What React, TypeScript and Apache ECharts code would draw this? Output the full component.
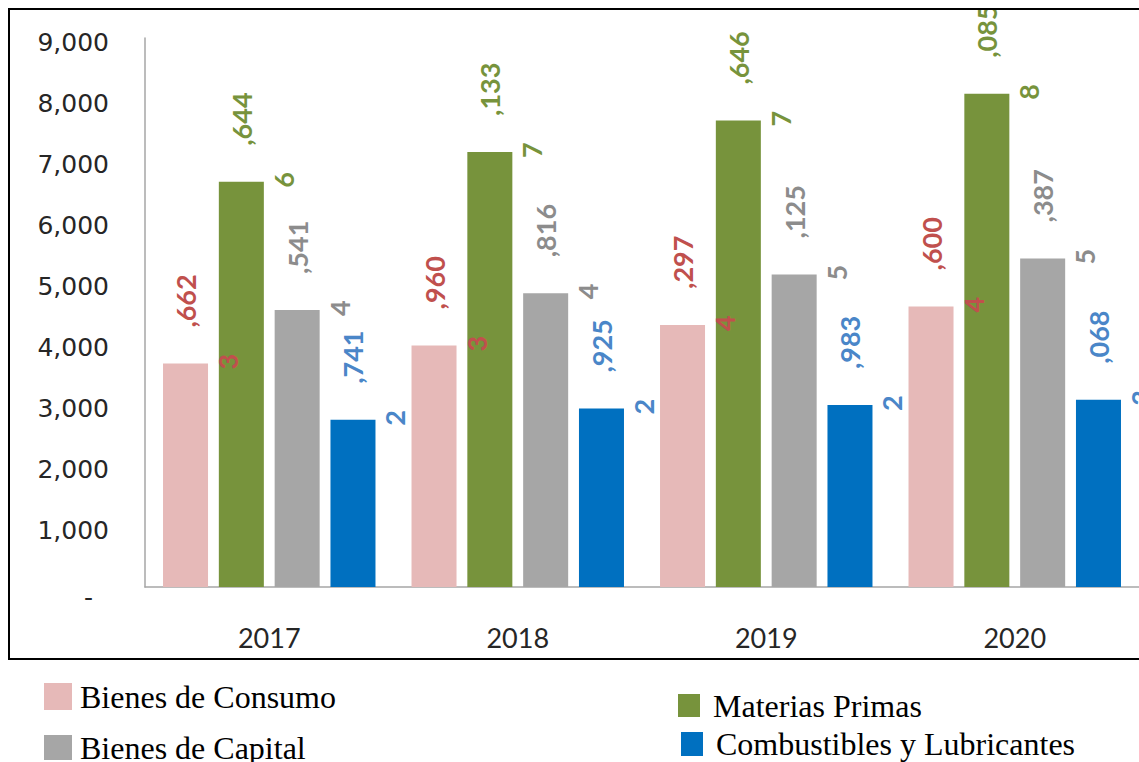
import React, { useEffect, useRef } from "react";
import * as echarts from "echarts";

const categories = ["2017", "2018", "2019", "2020"];
const seriesNames = ["Bienes de Consumo", "Materias Primas", "Bienes de Capital", "Combustibles y Lubricantes"];
const consumo = [3662, 3960, 4297, 4600];
const materias = [6644, 7133, 7646, 8085];
const capital = [4541, 4816, 5125, 5387];
const combustibles = [2741, 2925, 2983, 3068];
const barColors = ["#E6B9B8", "#77933C", "#A6A6A6", "#0070C0"];
const labelColors = ["#C0504D", "#77933C", "#8C8C8C", "#4A86C8"];
const yMin = 0;
const yMax = 9000;
const yStep = 1000;

function splitLabel(v: number) {
  const s = v.toLocaleString("en-US");
  const i = s.indexOf(",");
  return { head: s.slice(0, i), tail: s.slice(i) };
}

export default function App() {
  const ref = useRef<HTMLDivElement>(null);
  useEffect(() => {
    const chart = echarts.init(ref.current!, null, { renderer: "svg" });
    const labelFont = "Lato";
    const mkSeries = (name: string, data: number[], idx: number) => ({
      name,
      type: "bar",
      data,
      z: 10 - idx,
      barGap: "24%",
      barCategoryGap: "14.5%",
      itemStyle: { color: barColors[idx] },
      label: {
        show: true,
        position: "top",
        distance: -6,
        rotate: 90,
        align: "left",
        verticalAlign: "middle",
        formatter: (p: any) => {
          const { head, tail } = splitLabel(p.value);
          return `{s| }\n{m|${tail}}\n{d|${head}}`;
        },
        rich: {
          s: { lineHeight: 42, fontSize: 27 },
          m: {
            lineHeight: 42,
            fontSize: 27,
            fontWeight: "bold",
            fontFamily: labelFont,
            color: labelColors[idx],
            padding: [0, 0, 0, 42],
          },
          d: {
            lineHeight: 42,
            fontSize: 27,
            fontWeight: "bold",
            fontFamily: labelFont,
            color: labelColors[idx],
          },
        },
      },
    });
    const legendText = (padding: number[]) => ({
      fontFamily: "Liberation Serif",
      fontSize: 32,
      lineHeight: 32,
      color: "#000",
      padding,
    });
    const legendBase = { icon: "rect", selectedMode: false, orient: "vertical" };
    chart.setOption({
      animation: false,
      backgroundColor: "#fff",
      grid: { left: 145, top: 38, width: 996, height: 549 },
      legend: [
        { ...legendBase, data: [seriesNames[0]], left: 39, top: 667.5, itemWidth: 28, itemHeight: 27,
          textStyle: legendText([16, 0, 0, 3]) },
        { ...legendBase, data: [seriesNames[2]], left: 39, top: 724.5, itemWidth: 28, itemHeight: 25,
          textStyle: legendText([4, 0, 0, 3]) },
        { ...legendBase, data: [seriesNames[1]], left: 673, top: 684.5, itemWidth: 22, itemHeight: 23,
          textStyle: legendText([0, 0, 0, 8]) },
        { ...legendBase, data: [seriesNames[3]], left: 676, top: 723, itemWidth: 22, itemHeight: 24,
          textStyle: legendText([0, 0, 0, 8]) },
      ],
      xAxis: {
        type: "category",
        data: categories,
        axisLine: { show: true, lineStyle: { color: "#A6A6A6", width: 1.5 } },
        axisTick: { show: false },
        axisLabel: { margin: 37, fontFamily: "Lato", fontSize: 27, color: "#262626" },
      },
      yAxis: {
        type: "value",
        min: yMin,
        max: yMax,
        interval: yStep,
        splitLine: { show: false },
        axisLine: { show: true, lineStyle: { color: "#A6A6A6", width: 1.5 } },
        axisTick: { show: false },
        axisLabel: {
          margin: 36,
          formatter: (v: number) => (v === 0 ? "{z|-}" : `{n|${v.toLocaleString("en-US")}}`),
          rich: {
            z: { fontFamily: "DejaVu Sans", fontSize: 25, color: "#262626", padding: [20, 16, 0, 0] },
            n: { fontFamily: "DejaVu Sans", fontSize: 25, color: "#262626", padding: [8, 0, 0, 0] },
          },
        },
      },
      series: [
        mkSeries(seriesNames[0], consumo, 0),
        mkSeries(seriesNames[1], materias, 1),
        mkSeries(seriesNames[2], capital, 2),
        mkSeries(seriesNames[3], combustibles, 3),
      ],
      graphic: [
        {
          type: "rect",
          shape: { x: 0, y: 0, width: 1139, height: 9 },
          style: { fill: "#fff" },
          z: 99,
          silent: true,
        },
        {
          type: "rect",
          shape: { x: 9, y: 9, width: 1140, height: 650 },
          style: { fill: "none", stroke: "#000", lineWidth: 2 },
          z: 100,
          silent: true,
        },
      ],
    });
    return () => chart.dispose();
  }, []);
  return <div ref={ref} style={{ position: "absolute", left: 0, top: 0, width: 1139, height: 762 }} />;
}
